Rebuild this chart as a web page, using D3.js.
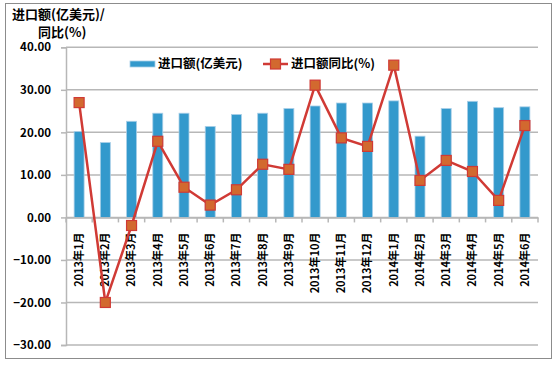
<!DOCTYPE html>
<html><head><meta charset="utf-8">
<script src="https://cdn.jsdelivr.net/npm/d3@7"></script>
<style>body{margin:0;background:#fff}svg{display:block}</style>
</head><body><svg id="c" width="557" height="366"></svg>
<script>
const categories = ["2013年1月","2013年2月","2013年3月","2013年4月","2013年5月","2013年6月","2013年7月","2013年8月","2013年9月","2013年10月","2013年11月","2013年12月","2014年1月","2014年2月","2014年3月","2014年4月","2014年5月","2014年6月"];
const importValue = [20.2,17.6,22.6,24.5,24.5,21.4,24.2,24.5,25.6,26.2,26.9,26.9,27.4,19.1,25.6,27.3,25.8,26.0];
const yoyChange = [27.0,-20.0,-1.9,17.9,7.1,2.9,6.5,12.5,11.3,31.1,18.7,16.7,35.8,8.7,13.4,10.8,4.0,21.6];
const yTicks = [-30,-20,-10,0,10,20,30,40];
const seriesNames = ["进口额(亿美元)","进口额同比(%)"];
const titleLines = ["进口额(亿美元)/","同比(%)"];

const font = "'Noto Sans CJK SC','DejaVu Sans',sans-serif";
const svg = d3.select("#c");
const L = 66, R = 538, T = 47.3, B = 345;
const x = d3.scaleBand().domain(categories).range([L, R]).paddingInner(0.62).paddingOuter(0.31);
const xb = d3.scaleBand().domain(categories).range([L, R]);
const y = d3.scaleLinear().domain([-30, 40]).range([B, T]);

svg.append("rect").attr("x",5.5).attr("y",3.5).attr("width",546).attr("height",355)
  .attr("fill","none").attr("stroke","#8c8c8c").attr("stroke-width",1);

svg.append("g").selectAll("line").data(yTicks).join("line")
  .attr("x1",L).attr("x2",R).attr("y1",d=>y(d)).attr("y2",d=>y(d))
  .attr("stroke","#b7b7b7").attr("stroke-width",1.5);

const ya = svg.append("g").attr("transform",`translate(${L},0)`)
  .call(d3.axisLeft(y).tickValues(yTicks).tickSize(5).tickPadding(10).tickFormat(d3.format(".2f")));
ya.select(".domain").attr("stroke","#b7b7b7").attr("stroke-width",1.5);
ya.selectAll(".tick line").attr("stroke","#b7b7b7").attr("stroke-width",1.5);
ya.selectAll("text").attr("font-family",font).attr("font-weight","bold").attr("font-size",11.5).attr("fill","#000");

svg.append("g").selectAll("rect").data(categories).join("rect")
  .attr("x",d=>x(d)).attr("width",x.bandwidth())
  .attr("y",(d,i)=>y(importValue[i])).attr("height",(d,i)=>y(0)-y(importValue[i]))
  .attr("fill","#3399cc").attr("stroke","#a9cfe8").attr("stroke-width",0.8);

const xa = svg.append("g").attr("transform",`translate(0,${y(0)})`)
  .call(d3.axisBottom(xb).tickSize(0).tickPadding(0));
xa.select(".domain").attr("stroke","#b7b7b7").attr("stroke-width",1.5);
xa.selectAll(".tick text")
  .attr("transform","translate(0,15) rotate(-90)")
  .attr("text-anchor","end").attr("dy","0.35em").attr("dx",0).attr("y",0)
  .attr("font-family",font).attr("font-weight","bold").attr("font-size",11).attr("fill","#000");
svg.append("g").selectAll("line").data(d3.range(categories.length+1)).join("line")
  .attr("x1",i=>L+i*xb.step()).attr("x2",i=>L+i*xb.step())
  .attr("y1",y(0)).attr("y2",y(0)+5).attr("stroke","#b7b7b7").attr("stroke-width",1.5);

const cx = d => xb(d) + xb.bandwidth()/2;
svg.append("path").datum(categories)
  .attr("d", d3.line().x(cx).y((d,i)=>y(yoyChange[i])))
  .attr("fill","none").attr("stroke","#d03a35").attr("stroke-width",2.5);
svg.append("g").selectAll("rect").data(categories).join("rect")
  .attr("x",d=>cx(d)-5).attr("y",(d,i)=>y(yoyChange[i])-5).attr("width",10).attr("height",10)
  .attr("fill","#d2692f").attr("stroke","#d03a35").attr("stroke-width",1.2);

const lg = svg.append("g");
lg.append("rect").attr("x",130).attr("y",61).attr("width",25).attr("height",6).attr("fill","#3399cc").attr("stroke","#a9cfe8").attr("stroke-width",0.8);
lg.append("text").attr("x",158).attr("y",64).attr("dy","0.35em").text(seriesNames[0]);
lg.append("line").attr("x1",263).attr("x2",288).attr("y1",64).attr("y2",64).attr("stroke","#d03a35").attr("stroke-width",2.5);
lg.append("rect").attr("x",270.5).attr("y",59).attr("width",10).attr("height",10).attr("fill","#d2692f").attr("stroke","#d03a35").attr("stroke-width",1.2);
lg.append("text").attr("x",291).attr("y",64).attr("dy","0.35em").text(seriesNames[1]);
lg.selectAll("text").attr("font-family",font).attr("font-weight","bold").attr("font-size",12.5).attr("fill","#000");

svg.append("g").selectAll("text").data(titleLines).join("text")
  .attr("x",(d,i)=>i===0?12:38).attr("y",(d,i)=>i===0?19:37)
  .attr("font-family",font).attr("font-weight","bold").attr("font-size",13).attr("fill","#000")
  .text(d=>d);
</script></body></html>
